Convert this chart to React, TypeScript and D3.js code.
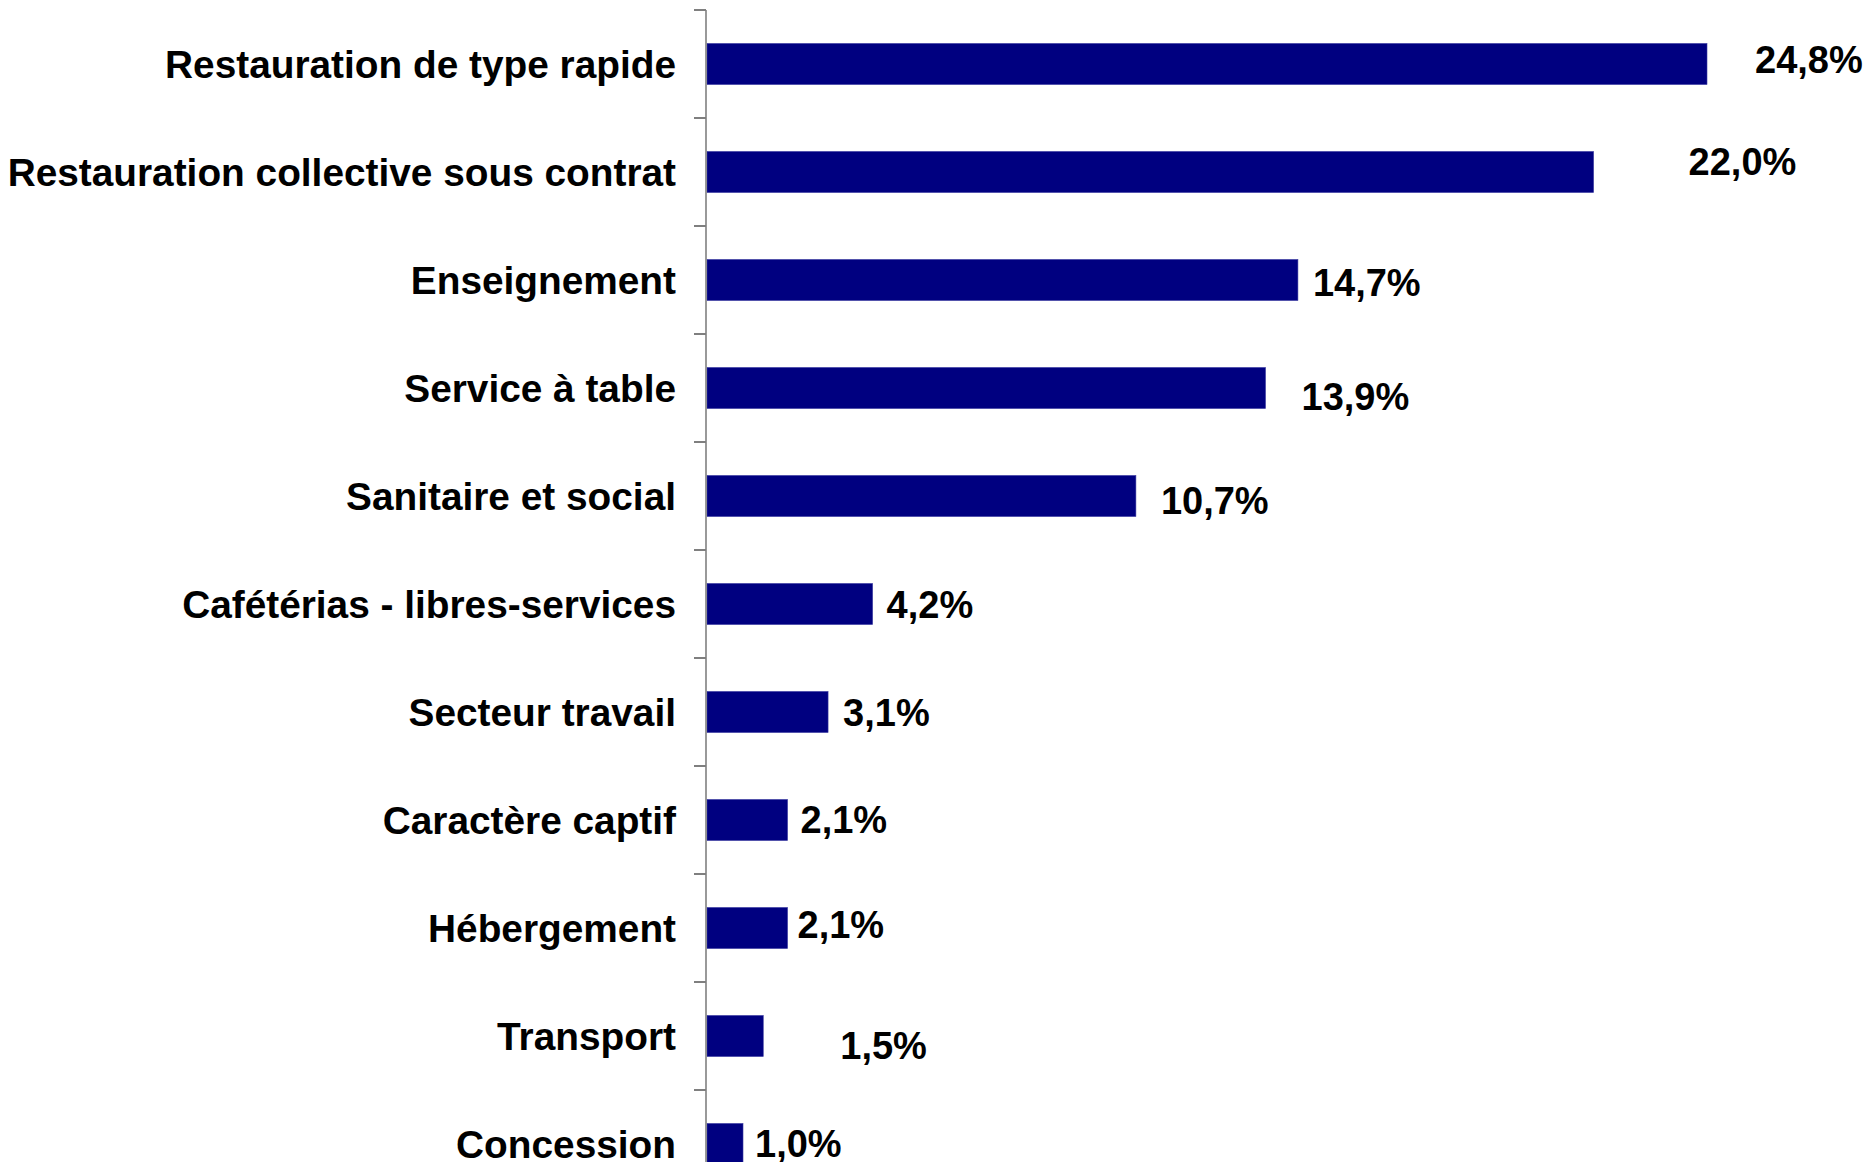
import React from "react";
import * as d3 from "d3";

const categories = [
  "Restauration de type rapide",
  "Restauration collective sous contrat",
  "Enseignement",
  "Service à table",
  "Sanitaire et social",
  "Cafétérias - libres-services",
  "Secteur travail",
  "Caractère captif",
  "Hébergement",
  "Transport",
  "Concession",
];
const values = [24.8, 22.0, 14.7, 13.9, 10.7, 4.2, 3.1, 2.1, 2.1, 1.5, 1.0];
const valueLabels = ["24,8%", "22,0%", "14,7%", "13,9%", "10,7%", "4,2%", "3,1%", "2,1%", "2,1%", "1,5%", "1,0%"];

// manual label nudges (as placed in the original chart)
const labelDx = [48, 95, 15, 36, 25, 14, 15, 13, 10, 77, 12];
const labelDy = [9, 3, 16, 22, 18, 14, 14, 13, 10, 23, 13];

const W = 1870;
const H = 1162;
const axisX = 706;
const FONT = "'Liberation Sans', Arial, Helvetica, sans-serif";

export default function App() {
  const x = d3.scaleLinear().domain([0, 24.8]).range([702.5, 1707]);
  const y = d3
    .scaleBand<string>()
    .domain(categories)
    .range([10, 10 + 108 * categories.length])
    .paddingInner(0.62)
    .paddingOuter(0.31);
  const step = y.step();

  return (
    <svg
      width={W}
      height={H}
      style={{ position: "absolute", left: 0, top: 0, background: "#fff" }}
      fontFamily={FONT}
    >
      <rect x={0} y={0} width={W} height={H} fill="#fff" />
      {categories.map((c, i) => {
        const yb = y(c)!;
        const cy = yb + y.bandwidth() / 2;
        return (
          <g key={c}>
            <rect
              x={axisX + 1}
              y={yb}
              width={x(values[i]) - (axisX + 1)}
              height={y.bandwidth()}
              fill="#000080"
              stroke="#3a3aa0"
              strokeWidth={0.6}
            />
            <text
              x={676}
              y={cy}
              dy="0.35em"
              textAnchor="end"
              fontSize={38.8}
              fontWeight="bold"
              fill="#000"
            >
              {c}
            </text>
            <text
              x={x(values[i]) + labelDx[i]}
              y={cy + labelDy[i]}
              fontSize={38}
              fontWeight="bold"
              fill="#000"
            >
              {valueLabels[i]}
            </text>
          </g>
        );
      })}
      {d3.range(categories.length + 1).map((k) => {
        const ty = 10 + k * step;
        return (
          <line
            key={"t" + k}
            x1={694}
            x2={axisX}
            y1={ty}
            y2={ty}
            stroke="#555"
            strokeWidth={1.5}
          />
        );
      })}
      <line x1={axisX} x2={axisX} y1={10} y2={H} stroke="#808080" strokeWidth={1.6} />
    </svg>
  );
}
